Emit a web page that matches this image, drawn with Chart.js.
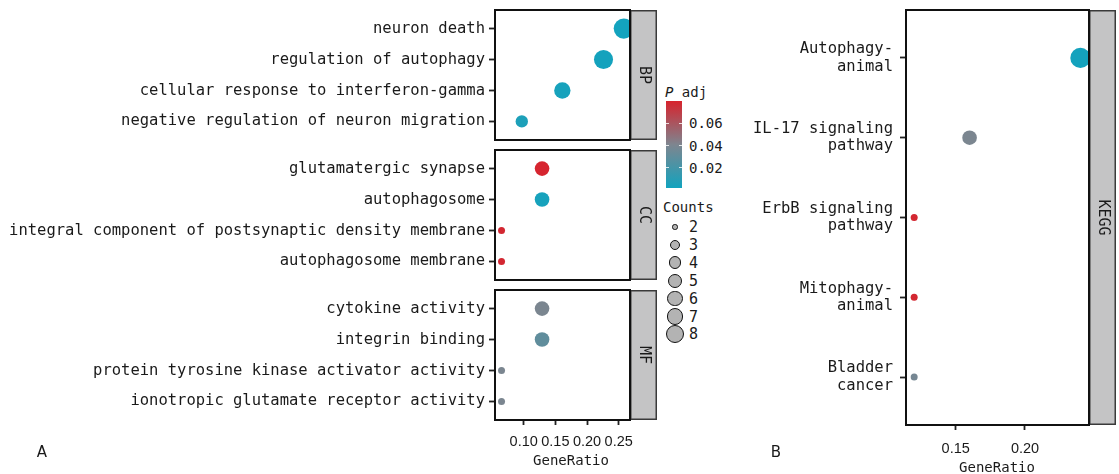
<!DOCTYPE html>
<html><head><meta charset="utf-8">
<script src="https://cdn.jsdelivr.net/npm/chart.js@4"></script>
<style>
html,body{margin:0;padding:0;background:#fff;}
body{width:1119px;height:474px;overflow:hidden;position:relative;}
canvas{position:absolute;}
.t{position:absolute;font-family:"DejaVu Sans Mono","Liberation Mono",monospace;font-size:14px;line-height:14px;color:#1a1a1a;white-space:nowrap;}
</style></head><body>
<canvas id="bp" style="left:0;top:0" width="660" height="145"></canvas>
<canvas id="cc" style="left:0;top:145px" width="660" height="140"></canvas>
<canvas id="mf" style="left:0;top:285px" width="660" height="189"></canvas>
<canvas id="kegg" style="left:740px;top:0" width="379" height="474"></canvas>
<div id="legend"></div>
<div class="t" style="left:571px;top:453px;transform:translateX(-50%)">GeneRatio</div>
<div class="t" style="left:997px;top:460px;transform:translateX(-50%)">GeneRatio</div>
<div class="t" style="left:42px;top:445px;transform:translateX(-50%);font-family:'DejaVu Sans',sans-serif;font-size:15px;line-height:15px">A</div>
<div class="t" style="left:776px;top:445px;transform:translateX(-50%);font-family:'DejaVu Sans',sans-serif;font-size:15px;line-height:15px">B</div>
<script>
// ---------- data ----------
const bpTerms = ['neuron death', 'regulation of autophagy', 'cellular response to interferon-gamma', 'negative regulation of neuron migration'];
const bpRatio = [0.258, 0.226, 0.161, 0.097];
const bpCount = [8, 7, 5, 3];
const bpPadj  = [0.0025, 0.0030, 0.0040, 0.0060];

const ccTerms = ['glutamatergic synapse', 'autophagosome', 'integral component of postsynaptic density membrane', 'autophagosome membrane'];
const ccRatio = [0.129, 0.129, 0.065, 0.065];
const ccCount = [4, 4, 2, 2];
const ccPadj  = [0.079, 0.004, 0.078, 0.078];

const mfTerms = ['cytokine activity', 'integrin binding', 'protein tyrosine kinase activator activity', 'ionotropic glutamate receptor activity'];
const mfRatio = [0.129, 0.129, 0.065, 0.065];
const mfCount = [4, 4, 2, 2];
const mfPadj  = [0.040, 0.030, 0.040, 0.040];

const keggTerms = ['Autophagy-\nanimal', 'IL-17 signaling\npathway', 'ErbB signaling\npathway', 'Mitophagy-\nanimal', 'Bladder\ncancer'];
const keggRatio = [0.24, 0.16, 0.12, 0.12, 0.12];
const keggCount = [6, 4, 3, 3, 3];
const keggPadj  = [0.003, 0.040, 0.078, 0.078, 0.038];

const xTicksA = [0.10, 0.15, 0.20, 0.25];
const xTicksB = [0.15, 0.20];
const xRangeA = [0.0547, 0.2678];
const xRangeB = [0.1141, 0.2462];

const padjRange = [0.0022, 0.0796];
const padjTicks = [0.02, 0.04, 0.06];
const legendCounts = [2, 3, 4, 5, 6, 7, 8];

// ---------- styles ----------
const FONT = '"DejaVu Sans Mono","Liberation Mono",monospace';
const TICKFONT = '"Liberation Sans","DejaVu Sans",sans-serif';
const stops = [[18, 163, 190], [126, 133, 143], [215, 35, 45]];
function colorOf(p) {
  let t = (p - padjRange[0]) / (padjRange[1] - padjRange[0]);
  t = Math.max(0, Math.min(1, t));
  let a, b, u;
  if (t < 0.5) { a = stops[0]; b = stops[1]; u = t / 0.5; } else { a = stops[1]; b = stops[2]; u = (t - 0.5) / 0.5; }
  const c = a.map((v, i) => Math.round(v + (b[i] - v) * u));
  return `rgb(${c[0]},${c[1]},${c[2]})`;
}
function radiusOf(c, cmin, cmax) {
  return 3.5 + 6.6 * Math.sqrt((c - cmin) / (cmax - cmin));
}

const framePlugin = {
  id: 'frame',
  afterDraw(chart, args, o) {
    const ctx = chart.ctx, a = chart.chartArea;
    ctx.save();
    ctx.fillStyle = '#C4C4C5';
    ctx.fillRect(a.right, a.top, o.w, a.bottom - a.top);
    ctx.strokeStyle = '#3a3a3a';
    ctx.lineWidth = 1.5;
    ctx.strokeRect(a.right + 0.75, a.top + 0.75, o.w - 1.5, a.bottom - a.top - 1.5);
    ctx.translate(a.right + o.w / 2, (a.top + a.bottom) / 2);
    ctx.rotate(Math.PI / 2);
    ctx.fillStyle = '#1a1a1a';
    ctx.font = '15px ' + FONT;
    ctx.textAlign = 'center';
    ctx.textBaseline = 'middle';
    ctx.fillText(o.label, 0, 0);
    ctx.restore();
    ctx.save();
    ctx.strokeStyle = '#111';
    ctx.lineWidth = 2;
    ctx.strokeRect(a.left, a.top, a.right - a.left, a.bottom - a.top);
    ctx.restore();
  }
};

function makeFacet(id, terms, ratio, count, padj, o) {
  const n = terms.length;
  const yVal = i => n - i;
  const radii = count.map(c => radiusOf(c, o.cmin, o.cmax));
  return new Chart(document.getElementById(id), {
    type: 'scatter',
    data: { datasets: [{
      data: terms.map((t, i) => ({ x: ratio[i], y: yVal(i) })),
      pointRadius: radii,
      pointHoverRadius: radii,
      pointBackgroundColor: padj.map(colorOf),
      pointBorderWidth: 0,
      pointHoverBorderWidth: 0,
      clip: 0
    }]},
    options: {
      responsive: false, animation: false, devicePixelRatio: 1, events: [],
      layout: { autoPadding: false, padding: { left: 0, right: o.padRight, top: o.padTop, bottom: o.padBottom } },
      plugins: { legend: { display: false }, tooltip: { enabled: false }, frame: { label: o.strip, w: 27 } },
      scales: {
        x: {
          type: 'linear', min: o.xRange[0], max: o.xRange[1], display: !!o.xTicks,
          afterBuildTicks: s => { if (o.xTicks) s.ticks = o.xTicks.map(v => ({ value: v })); },
          afterFit: s => { s.height = o.xHeight || 0; s.paddingLeft = 0; s.paddingRight = 0; },
          grid: { drawOnChartArea: false, drawTicks: true, tickLength: 5, tickColor: '#222', tickWidth: 1.8 },
          border: { display: false },
          ticks: { autoSkip: false, padding: o.xTickPad || 8, color: '#1a1a1a', font: { family: TICKFONT, size: 14.5 }, maxRotation: 0, minRotation: 0, callback: v => Number(v).toFixed(2) }
        },
        y: {
          type: 'linear', min: 0.4, max: n + 0.6,
          afterBuildTicks: s => { s.ticks = terms.map((t, i) => ({ value: yVal(i) })); },
          afterFit: s => { s.width = o.yWidth; s.paddingTop = 0; s.paddingBottom = 0; },
          grid: { drawOnChartArea: false, drawTicks: true, tickLength: 6, tickColor: '#222', tickWidth: 1.8 },
          border: { display: false },
          ticks: { autoSkip: false, padding: o.yTickPad || 4, color: '#1a1a1a', font: { family: FONT, size: 15.5, lineHeight: 1.12 },
                   callback: v => terms[n - Math.round(v)].split('\n') }
        }
      }
    },
    plugins: [framePlugin]
  });
}

const aOpts = { cmin: 2, cmax: 8, xRange: xRangeA, yWidth: 495, padRight: 30 };
makeFacet('bp', bpTerms, bpRatio, bpCount, bpPadj, Object.assign({}, aOpts, { strip: 'BP', padTop: 10, padBottom: 5 }));
makeFacet('cc', ccTerms, ccRatio, ccCount, ccPadj, Object.assign({}, aOpts, { strip: 'CC', padTop: 5, padBottom: 5 }));
makeFacet('mf', mfTerms, mfRatio, mfCount, mfPadj, Object.assign({}, aOpts, { strip: 'MF', padTop: 5, padBottom: 0, xTicks: xTicksA, xHeight: 54, xTickPad: 8 }));
makeFacet('kegg', keggTerms, keggRatio, keggCount, keggPadj,
  { cmin: 3, cmax: 6, xRange: xRangeB, yWidth: 166, padRight: 30, strip: 'KEGG', padTop: 10, padBottom: 0, xTicks: xTicksB, xHeight: 49, xTickPad: 10, yTickPad: 7 });

// ---------- legend ----------
(function () {
  const L = document.getElementById('legend');
  let h = '';
  h += `<div class="t" style="left:665px;top:85px"><span style="font-style:italic">P</span> adj</div>`;
  const top = 101, bot = 188;
  h += `<div style="position:absolute;left:666px;top:${top}px;width:16px;height:${bot - top}px;background:linear-gradient(to top, rgb(${stops[0]}) 0%, rgb(${stops[1]}) 50%, rgb(${stops[2]}) 100%)"></div>`;
  padjTicks.forEach(v => {
    const y = bot - (v - padjRange[0]) / (padjRange[1] - padjRange[0]) * (bot - top);
    h += `<div style="position:absolute;left:666px;top:${y - 0.5}px;width:3px;height:1px;background:rgba(255,255,255,0.8)"></div>`;
    h += `<div style="position:absolute;left:679px;top:${y - 0.5}px;width:3px;height:1px;background:rgba(255,255,255,0.8)"></div>`;
    h += `<div class="t" style="left:689px;top:${y - 7}px">${v.toFixed(2)}</div>`;
  });
  h += `<div class="t" style="left:663px;top:200px">Counts</div>`;
  legendCounts.forEach((c, i) => {
    const y = 227 + i * 17.9;
    const r = 2.7 + 6.3 * Math.sqrt((c - 2) / 6);
    h += `<div style="position:absolute;left:${675 - r}px;top:${y - r}px;width:${2 * r}px;height:${2 * r}px;border-radius:50%;box-sizing:border-box;border:1.7px solid #111;background:#B3B3B3"></div>`;
    h += `<div class="t" style="left:689px;top:${y - 7}px;font-size:15px">${c}</div>`;
  });
  L.innerHTML = h;
})();
</script>
</body></html>
